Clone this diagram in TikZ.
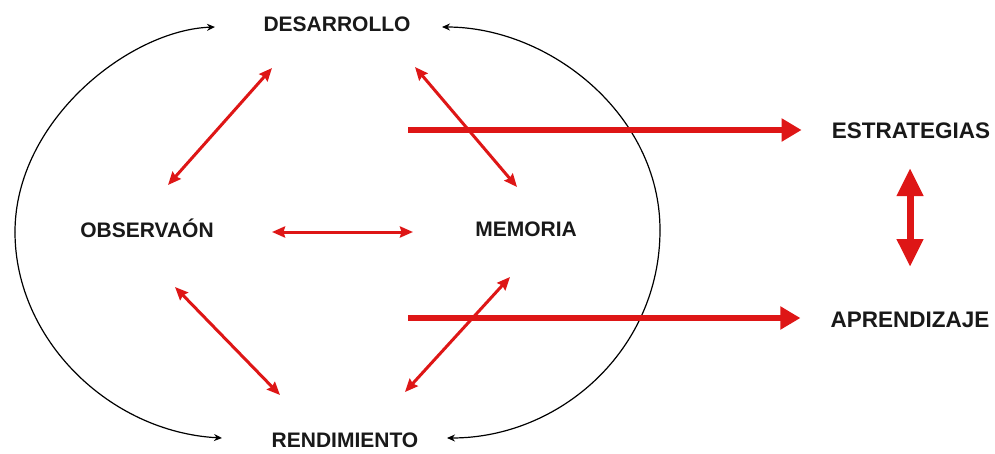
\documentclass[tikz,border=0pt]{standalone}
\usepackage{fontspec}
\setmainfont{Liberation Sans}
\usetikzlibrary{arrows.meta}
\definecolor{arrred}{RGB}{222,22,22}
\begin{document}
\begin{tikzpicture}[x=1pt,y=-1pt,
  lbl/.style={font=\fontsize{21}{21}\selectfont\bfseries, text=black!90, inner sep=0pt, text height=15pt, text depth=0pt},
  lblw/.style={lbl, font=\fontsize{22.5}{22.5}\selectfont\bfseries},
  thinred/.style={draw=arrred, line width=3pt, {Stealth[length=13pt,width=11pt,inset=1.5pt]}-{Stealth[length=13pt,width=11pt,inset=1.5pt]}},
  thickred/.style={draw=arrred, line width=6pt, -{Triangle[length=20pt,width=22pt]}},
  vertred/.style={draw=arrred, line width=7pt, {Triangle[length=28pt,width=25pt]}-{Triangle[length=28pt,width=25pt]}},
  loop/.style={draw=black, line width=1.2pt, -{Stealth[length=8pt,width=7pt]}}]
\useasboundingbox[fill=white] (0,0) rectangle (995,453);

% labels
\node[lbl]  (des)  at (337,24)  {DESARROLLO};
\node[lbl]  (obs)  at (147,230) {OBSERVAÓN};
\node[lbl]  (mem)  at (526,229) {MEMORIA};
\node[lbl]  (rend) at (345,440) {RENDIMIENTO};
\node[lblw] (estr) at (911,131) {ESTRATEGIAS};
\node[lblw] (apr)  at (910,320) {APRENDIZAJE};

% arrow end points
\coordinate (a1) at (272,68);  \coordinate (a2) at (168,185);
\coordinate (b1) at (415,67);  \coordinate (b2) at (517,187);
\coordinate (c1) at (272,232); \coordinate (c2) at (413,232);
\coordinate (d1) at (175,287); \coordinate (d2) at (280,395);
\coordinate (e1) at (510,277); \coordinate (e2) at (405,392);
\coordinate (s1) at (408,130); \coordinate (s2) at (408,318);
\coordinate (v1) at (910,168); \coordinate (v2) at (910,267);
\coordinate (lt) at (215,27);  \coordinate (lb) at (222,438);
\coordinate (rt) at (442,27);  \coordinate (rb) at (447,438);
\coordinate (lm) at (15,232);  \coordinate (rm) at (660,230);

% black loops
\draw[loop] (lm) .. controls (15,120) and (130,30) .. (lt);
\draw[loop] (lm) .. controls (15,340) and (110,432) .. (lb);
\draw[loop] (rm) .. controls (660,115) and (550,27) .. (rt);
\draw[loop] (rm) .. controls (660,350) and (560,438) .. (rb);

% thin red arrows
\draw[thinred] (a1) -- (a2);
\draw[thinred] (b1) -- (b2);
\draw[thinred] (c1) -- (c2);
\draw[thinred] (d1) -- (d2);
\draw[thinred] (e1) -- (e2);

% thick red arrows
\draw[thickred] (s1) -- (s1 -| estr.west) [shorten >=30pt];
\draw[thickred] (s2) -- (s2 -| apr.west) [shorten >=30pt];
\draw[vertred] (v1) -- (v2);
\end{tikzpicture}
\end{document}
